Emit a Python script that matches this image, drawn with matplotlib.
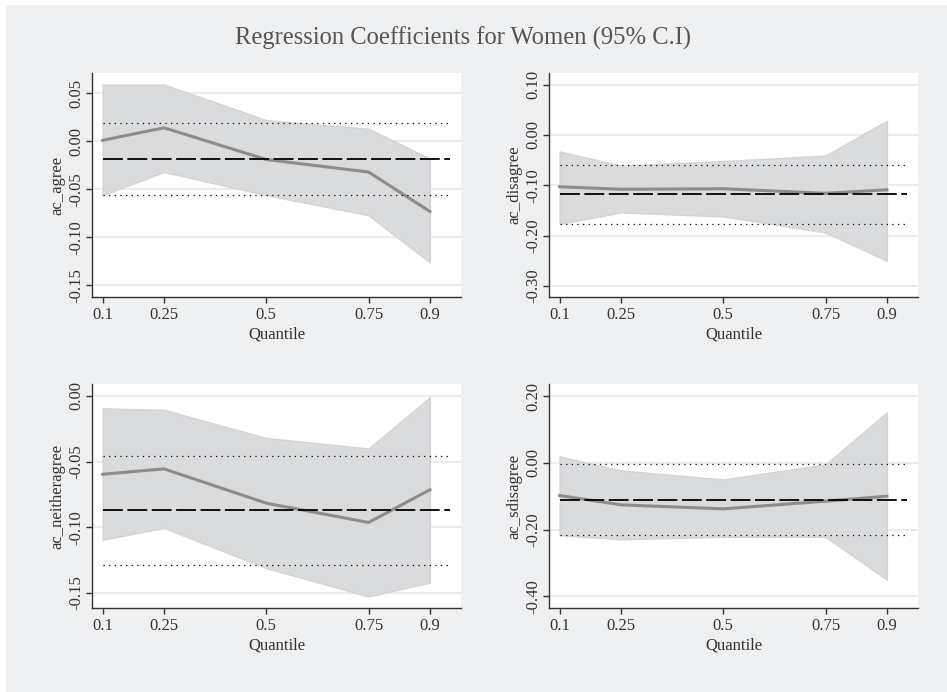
import numpy as np
import matplotlib.pyplot as plt
from matplotlib.patches import Rectangle

plt.rcParams['font.family'] = ['Liberation Serif', 'DejaVu Serif']

quantiles = [0.1, 0.25, 0.5, 0.75, 0.9]
qlabels = ["0.1", "0.25", "0.5", "0.75", "0.9"]

# ac_agree
agree_coef = [0.001, 0.014, -0.019, -0.032, -0.073]
agree_hi = [0.059, 0.059, 0.022, 0.013, -0.018]
agree_lo = [-0.056, -0.032, -0.056, -0.077, -0.126]
agree_ols = [-0.018, 0.019, -0.056]  # coef, upper, lower

# ac_disagree
disagree_coef = [-0.103, -0.108, -0.107, -0.116, -0.109]
disagree_hi = [-0.033, -0.061, -0.052, -0.041, 0.028]
disagree_lo = [-0.177, -0.154, -0.162, -0.194, -0.250]
disagree_ols = [-0.117, -0.060, -0.177]

# ac_neitheragree
neither_coef = [-0.0596, -0.0555, -0.0816, -0.0963, -0.0714]
neither_hi = [-0.0094, -0.0106, -0.032, -0.040, -0.001]
neither_lo = [-0.1094, -0.1005, -0.131, -0.1526, -0.142]
neither_ols = [-0.0866, -0.0456, -0.1284]

# ac_sdisagree
sdis_coef = [-0.098, -0.126, -0.138, -0.115, -0.100]
sdis_hi = [0.019, -0.023, -0.050, -0.005, 0.151]
sdis_lo = [-0.217, -0.229, -0.222, -0.222, -0.350]
sdis_ols = [-0.110, -0.005, -0.215]

panels = [
    ("ac_agree", agree_coef, agree_hi, agree_lo, agree_ols,
     [0.05, 0.0, -0.05, -0.10, -0.15], ["0.05", "0.00", "-0.05", "-0.10", "-0.15"], (-0.162, 0.071)),
    ("ac_disagree", disagree_coef, disagree_hi, disagree_lo, disagree_ols,
     [0.10, 0.0, -0.10, -0.20, -0.30], ["0.10", "0.00", "-0.10", "-0.20", "-0.30"], (-0.322, 0.123)),
    ("ac_neitheragree", neither_coef, neither_hi, neither_lo, neither_ols,
     [0.0, -0.05, -0.10, -0.15], ["0.00", "-0.05", "-0.10", "-0.15"], (-0.1614, 0.0091)),
    ("ac_sdisagree", sdis_coef, sdis_hi, sdis_lo, sdis_ols,
     [0.20, 0.0, -0.20, -0.40], ["0.20", "0.00", "-0.20", "-0.40"], (-0.435, 0.236)),
]

W, H = 947, 692
fig = plt.figure(figsize=(W / 100, H / 100), dpi=100)
fig.patch.set_facecolor('white')
fig.patches.append(Rectangle((6 / W, 0), 1, 1 - 5 / H, transform=fig.transFigure,
                             facecolor='#eff0f2', edgecolor='none', zorder=-10))

# axes boxes in pixels: left, right, top, bottom
boxes = [(92, 461, 73, 297), (549, 918, 73, 297),
         (92, 461, 384, 608), (549, 918, 384, 608)]

line_x = [0.1, 0.95]

for (name, coef, hi, lo, ols, yt, ytl, ylim), (l, r, t, b) in zip(panels, boxes):
    ax = fig.add_axes([l / W, 1 - b / H, (r - l) / W, (b - t) / H])
    ax.set_facecolor('white')
    ax.fill_between(quantiles, lo, hi, color='#dadbdd', edgecolor='#d3d4d6', linewidth=1, zorder=2)
    ax.plot(quantiles, coef, color='#8c8c8c', linewidth=2.2, zorder=3)
    ax.plot(line_x, [ols[0]] * 2, color='black', linestyle=(0, (11, 2.5)), linewidth=1.3, zorder=4)
    ax.plot(line_x, [ols[1]] * 2, color='black', linestyle=(0, (1, 3.5)), linewidth=0.9, zorder=4)
    ax.plot(line_x, [ols[2]] * 2, color='black', linestyle=(0, (1, 3.5)), linewidth=0.9, zorder=4)

    ax.set_xlim(0.074, 0.976)
    ax.set_ylim(*ylim)
    ax.set_xticks(quantiles)
    ax.set_xticklabels(qlabels)
    ax.set_yticks(yt)
    ax.set_yticklabels(ytl, rotation=90, va='center')
    ax.grid(axis='y', color='#eaeced', linewidth=1.5, zorder=1)
    ax.set_axisbelow(True)
    for s in ['top', 'right']:
        ax.spines[s].set_visible(False)
    for s in ['left', 'bottom']:
        ax.spines[s].set_color('#333333')
        ax.spines[s].set_linewidth(1.0)
    ax.tick_params(direction='out', length=4.5, width=1, color='#333333',
                   labelsize=12, labelcolor='#333333')
    ax.tick_params(axis='y', pad=1)
    ax.tick_params(axis='x', pad=3)
    ax.set_xlabel("Quantile", fontsize=12, color='#333333', labelpad=2)
    ax.set_ylabel(name, fontsize=12, color='#333333', labelpad=2.5)

fig.text(0.489, 1 - 38 / H, "Regression Coefficients for Women (95% C.I)",
         ha='center', va='center', fontsize=17.7, color='#555555')

fig.savefig('out.png', dpi=100)
